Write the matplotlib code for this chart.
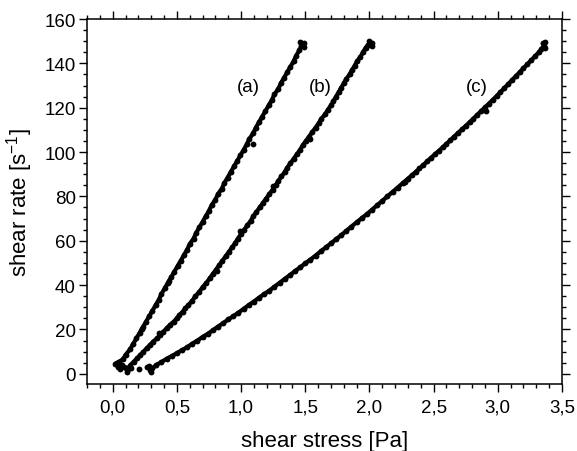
import matplotlib
matplotlib.use("Agg")
import matplotlib.pyplot as plt
from matplotlib.ticker import MultipleLocator, FuncFormatter

plt.rcParams['font.family'] = ['Liberation Sans', 'DejaVu Sans']
plt.rcParams['mathtext.fontset'] = 'custom'
plt.rcParams['mathtext.rm'] = 'Liberation Sans'
plt.rcParams['mathtext.it'] = 'Liberation Sans:italic'

stress_a = [0.02, 0.05, 0.08, 0.10, 0.135, 0.16, 0.185, 0.21, 0.235, 0.26, 0.285,
            0.31, 0.335, 0.36, 0.38, 0.405, 0.43, 0.455, 0.48, 0.505, 0.53, 0.555, 0.58, 0.60,
            0.63, 0.65, 0.675, 0.70, 0.725, 0.75, 0.77, 0.80, 0.82, 0.85, 0.87, 0.895, 0.92,
            0.945, 0.97, 0.995, 1.02, 1.045, 1.065, 1.095, 1.115, 1.14, 1.165, 1.19, 1.215,
            1.24, 1.26, 1.29, 1.31, 1.335, 1.36, 1.385, 1.41, 1.43, 1.455, 1.47, 1.49, 1.46]
rate_a = [4.5, 5.5, 6.5, 8.5, 11.0, 13.5, 16.0, 18.5, 21.0, 23.5, 26.0,
          28.5, 31.0, 33.5, 36.0, 38.5, 41.0, 43.5, 46.0, 48.5, 51.0, 53.5, 56.0, 58.5,
          61.0, 63.5, 66.0, 68.5, 71.0, 73.5, 76.0, 78.5, 81.0, 83.5, 86.0, 88.5, 91.0,
          93.5, 96.0, 98.5, 101.0, 103.5, 106.0, 108.5, 111.0, 113.5, 116.0, 118.5, 121.0,
          123.5, 126.0, 128.5, 131.0, 133.5, 136.0, 138.5, 141.0, 143.5, 146.0, 148.0, 149.0, 149.5]

stress_b = [0.12, 0.133, 0.165, 0.19, 0.215, 0.24, 0.265, 0.29,
            0.315, 0.345, 0.37, 0.395, 0.42, 0.445, 0.475, 0.50, 0.52, 0.545, 0.565, 0.59,
            0.62, 0.645, 0.675, 0.70, 0.73, 0.755, 0.78, 0.805, 0.83, 0.855, 0.88, 0.905,
            0.93, 0.955, 0.975, 1.00, 1.025, 1.05, 1.075, 1.095, 1.12, 1.145, 1.17, 1.195,
            1.22, 1.245, 1.27, 1.29, 1.315, 1.34, 1.36, 1.385, 1.41, 1.435, 1.46, 1.48,
            1.505, 1.53, 1.555, 1.58, 1.605, 1.625, 1.655, 1.675, 1.70, 1.72, 1.74, 1.76,
            1.78, 1.80, 1.82, 1.845, 1.865, 1.885, 1.905, 1.93, 1.95, 1.97, 1.99, 2.02, 2.00]
rate_b = [2.0, 3.7, 5.5, 7.0, 8.5, 10.0, 11.5, 13.0,
          14.5, 16.0, 17.5, 19.0, 20.5, 22.0, 23.5, 25.0, 26.5, 28.0, 29.5, 31.0,
          33.0, 35.0, 37.0, 39.0, 41.0, 43.0, 45.0, 47.0, 49.0, 51.0, 53.0, 55.0,
          57.0, 59.0, 61.0, 63.0, 65.0, 67.0, 69.0, 71.0, 73.0, 75.0, 77.0, 79.0,
          81.0, 83.0, 85.0, 87.0, 89.0, 91.0, 93.0, 95.0, 97.0, 99.0, 101.0, 103.0,
          105.0, 107.0, 109.0, 111.0, 113.0, 115.0, 117.0, 119.0, 121.0, 123.0, 125.0, 127.0,
          129.0, 131.0, 133.0, 135.0, 137.0, 139.0, 141.0, 143.0, 145.0, 147.0, 148.5, 149.0, 150.0]

stress_c = [0.30, 0.31, 0.34, 0.38, 0.42, 0.46, 0.50, 0.54, 0.58, 0.62,
            0.66, 0.70, 0.74, 0.78, 0.82, 0.86, 0.90, 0.94, 0.98, 1.02, 1.06, 1.10, 1.14,
            1.18, 1.22, 1.26, 1.30, 1.34, 1.38, 1.42, 1.46, 1.50, 1.54, 1.58, 1.62, 1.66,
            1.70, 1.74, 1.78, 1.82, 1.86, 1.90, 1.94, 1.98, 2.02, 2.06, 2.10, 2.14, 2.18,
            2.22, 2.26, 2.30, 2.33, 2.36, 2.39, 2.42, 2.45, 2.48, 2.51, 2.54, 2.57, 2.60,
            2.63, 2.66, 2.69, 2.72, 2.75, 2.78, 2.81, 2.84, 2.87, 2.90, 2.93, 2.96, 2.99,
            3.02, 3.05, 3.08, 3.11, 3.14, 3.17, 3.20, 3.23, 3.26, 3.29, 3.32, 3.34, 3.36,
            3.37, 3.35]
rate_c = [1.0, 2.5, 4.0, 5.3, 6.8, 8.0, 9.3, 10.7, 12.0, 13.6,
          15.0, 16.6, 18.0, 19.6, 21.3, 22.8, 24.5, 26.0, 27.6, 29.3, 31.0, 32.6, 34.3,
          36.0, 37.5, 39.3, 41.0, 42.8, 44.5, 46.3, 48.0, 49.8, 51.5, 53.3, 55.2, 57.0,
          58.8, 60.7, 62.5, 64.5, 66.4, 68.3, 70.2, 72.0, 74.0, 76.0, 78.0, 80.0, 82.0,
          84.0, 86.0, 88.0, 89.5, 91.0, 92.6, 94.2, 95.8, 97.4, 99.0, 100.5, 102.1, 103.7,
          105.3, 107.0, 108.6, 110.2, 111.8, 113.4, 115.1, 116.8, 118.5, 120.1, 121.8, 123.5, 125.2,
          127.0, 128.8, 130.6, 132.4, 134.2, 136.0, 137.8, 139.6, 141.4, 143.2, 145.0, 146.5, 148.0,
          149.5, 149.0]

# stray / scattered single points around the curves
stray_stress = [0.04, 0.06, 0.03, 0.07, 0.10, 0.11, 0.14, 0.09, 0.205, 0.27, 0.29, 0.28,
                1.09, 1.49, 2.02, 3.37, 0.23, 0.44, 0.99, 1.25, 0.36, 0.81, 1.54, 2.28, 2.91]
stray_rate = [3.0, 2.0, 5.0, 4.0, 2.5, 1.0, 2.5, 3.0, 2.3, 3.0, 1.5, 3.5,
              103.5, 147.5, 148.0, 147.0, 20.0, 42.0, 64.5, 84.5, 18.5, 46.5, 106.0, 86.5, 118.5]

curve_labels = ['(a)', '(b)', '(c)']
label_x = [1.06, 1.62, 2.835]
label_y = [129.5, 129.5, 129.5]

x_ticks = [0.0, 0.5, 1.0, 1.5, 2.0, 2.5, 3.0, 3.5]
y_ticks = [0, 20, 40, 60, 80, 100, 120, 140, 160]

# ---- figure ----
fig = plt.figure(figsize=(5.77, 4.52), dpi=100)
ax = fig.add_axes([87 / 577, 67 / 452, 475 / 577, 365 / 452])

for sx, sy in [(stress_a, rate_a), (stress_b, rate_b), (stress_c, rate_c)]:
    ax.plot(sx, sy, '-', color='black', linewidth=3.0, solid_capstyle='round')
    ax.plot(sx, sy, 'o', color='black', markersize=4.2, markeredgewidth=0)
ax.plot(stray_stress, stray_rate, 'o', color='black', markersize=4.2, markeredgewidth=0)

for t, lx, ly in zip(curve_labels, label_x, label_y):
    ax.text(lx, ly, t, fontsize=13.5, ha='center', va='center')

ax.set_xlim(-0.2, 3.5)
ax.set_ylim(-4.6, 160)

ax.set_xticks(x_ticks)
ax.set_yticks(y_ticks)
ax.xaxis.set_minor_locator(MultipleLocator(0.1))
ax.yaxis.set_minor_locator(MultipleLocator(5))
ax.xaxis.set_major_formatter(FuncFormatter(lambda v, p: f"{v:.1f}".replace('.', ',')))
ax.yaxis.set_major_formatter(FuncFormatter(lambda v, p: f"{int(round(v))}"))

ax.tick_params(which='both', direction='out', top=True, right=True, width=1.0, colors='black')
ax.tick_params(which='major', length=5.5, labelsize=13.5)
ax.tick_params(which='minor', length=3)
ax.tick_params(axis='x', which='major', pad=5)
ax.tick_params(axis='y', which='major', pad=2.5)

for s in ax.spines.values():
    s.set_linewidth(1.1)

ax.set_xlabel('shear stress [Pa]', fontsize=16)
ax.set_ylabel(r'shear rate [s$^{\mathregular{-1}}$]', fontsize=16)
ax.xaxis.set_label_coords(0.5, -0.126)
ax.yaxis.set_label_coords(-0.109, 0.5)

fig.savefig('out.png', dpi=100)
